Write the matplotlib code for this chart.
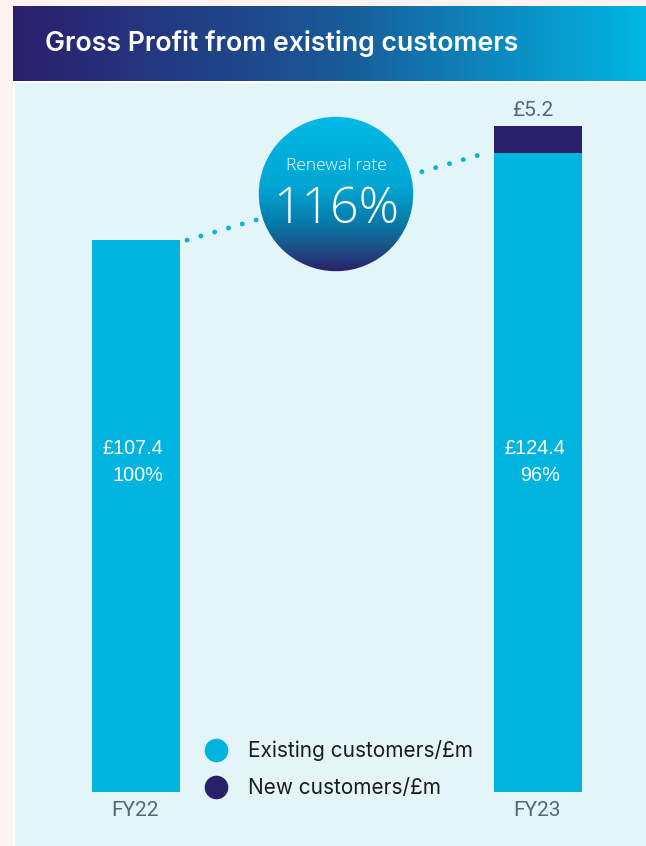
import numpy as np
import matplotlib
matplotlib.use('Agg')
import matplotlib.pyplot as plt
from matplotlib.patches import Rectangle, Circle
from matplotlib.lines import Line2D
from matplotlib.colors import LinearSegmentedColormap

# ---------------- data ----------------
categories = ['FY22', 'FY23']
existing = [107.4, 124.4]
new_cust = [0.0, 5.2]
existing_share = ['100%', '96%']
renewal_label = 'Renewal rate'
renewal_rate = '116%'
title = 'Gross Profit from existing customers'
legend_labels = ['Existing customers/£m', 'New customers/£m']

# ---------------- style ----------------
W, H, DPI = 646, 846, 100
C_EXIST = '#00b4e0'
C_NEW = '#2a1f6b'
C_PANEL = '#e4f5fa'
C_BG = '#fef3f1'
C_GREY = '#56667a'

fig = plt.figure(figsize=(W / DPI, H / DPI), dpi=DPI)
fig.patch.set_facecolor(C_BG)


def px_rect(x0, y0, x1, y1):
    return [x0 / W, 1 - y1 / H, (x1 - x0) / W, (y1 - y0) / H]


# white frame strip under the panel
fig.patches.append(Rectangle((12.7 / W, 0), 1, 1 - 81 / H, transform=fig.transFigure,
                             facecolor='white', edgecolor='none', zorder=-10))

# ---------------- header ----------------
hax = fig.add_axes(px_rect(12.7, 6, 646, 81.5))
hcmap = LinearSegmentedColormap.from_list('hdr', ['#2b1f6e', '#1a5796', '#00b6e3'])
hax.imshow(np.linspace(0, 1, 256)[None, :], cmap=hcmap, aspect='auto', extent=[0, 1, 0, 1])
hax.set_axis_off()
hax.text(32 / (646 - 12.7), 0.5, title, color='white', fontsize=19.2, fontfamily='Inter',
         fontweight='semibold', va='center', ha='left', transform=hax.transAxes)

# ---------------- main panel ----------------
PX0, PY0, PX1, PY1 = 15, 83.3, 646, 846
ax = fig.add_axes(px_rect(PX0, PY0, PX1, PY1))
ax.set_facecolor(C_PANEL)
for s in ax.spines.values():
    s.set_visible(False)
ax.set_xticks([])
ax.set_yticks([])

x = np.arange(len(categories))
# pixel geometry of the reference
cx0, cx1 = 136.0, 538.0          # bar centres
ppu_x = cx1 - cx0                # pixels per category unit
bar_w = 88.0 / ppu_x
base_px, top_px = 792.0, 126.0    # y of zero and of the FY23 total
totals = [e + n for e, n in zip(existing, new_cust)]
ppu_y = (base_px - top_px) / max(totals)
ax.set_xlim(-(cx0 - PX0) / ppu_x, 1 + (PX1 - cx1) / ppu_x)
ax.set_ylim(-(PY1 - base_px) / ppu_y, max(totals) + (top_px - PY0) / ppu_y)

ax.bar(x, existing, width=bar_w, color=C_EXIST, zorder=2)
ax.bar(x, new_cust, bottom=existing, width=bar_w, color=C_NEW, zorder=2)

# dotted connector between the two existing-customer bars
gap = 7.0 / ppu_x
ax.plot([x[0] + bar_w / 2 + gap, x[1] - bar_w / 2 - gap], [existing[0], existing[1]],
        color=C_EXIST, lw=3.5, ls=(0, (0.01, 2.95)), dash_capstyle='round',
        solid_capstyle='round', zorder=1)

# labels inside bars
label_y = (base_px - 462) / ppu_y
for i, (v, sh) in enumerate(zip(existing, existing_share)):
    ax.annotate(f'£{v:.1f}', (x[i], label_y), xytext=(-2.5, 9.4), textcoords='offset points',
                ha='center', va='center', color='white', fontsize=14.3,
                fontfamily='Liberation Sans', zorder=3)
    ax.annotate(sh, (x[i], label_y), xytext=(1.5, -9.4), textcoords='offset points',
                ha='center', va='center', color='white', fontsize=14.3,
                fontfamily='Liberation Sans', zorder=3)

# new customers value on top
ax.annotate(f'£{new_cust[1]:.1f}', (x[1], totals[1]), xytext=(-3.5, 11), textcoords='offset points',
            ha='center', va='center', color=C_GREY, fontsize=15, fontfamily='Roboto')

# category labels
for i, c in enumerate(categories):
    ax.annotate(c, (x[i], 0), xytext=(-1, -13.5), textcoords='offset points',
                ha='center', va='center', color=C_GREY, fontsize=15, fontfamily='Roboto')

# legend
handles = [Line2D([], [], marker='o', ls='', ms=17, color=C_EXIST, mec='none'),
           Line2D([], [], marker='o', ls='', ms=17, color=C_NEW, mec='none')]
leg = ax.legend(handles, legend_labels, loc='center left',
                bbox_to_anchor=((206 - PX0) / (PX1 - PX0), 1 - (769 - PY0) / (PY1 - PY0)),
                frameon=False, handlelength=1.0, handletextpad=1.0, labelspacing=0.8,
                borderpad=0, borderaxespad=0,
                prop={'family': 'Inter', 'size': 15})
for t in leg.get_texts():
    t.set_color('#1c1c1c')

# ---------------- renewal badge ----------------
bcx, bcy, br = 336.0, 194.0, 78.0
bax = fig.add_axes(px_rect(bcx - br, bcy - br, bcx + br, bcy + br))
bax.set_xlim(-1, 1)
bax.set_ylim(-1, 1)
bax.set_axis_off()
bcmap = LinearSegmentedColormap.from_list(
    'badge', [(0.0, '#2b1d68'), (0.14, '#1f4c86'), (0.30, '#0878a6'),
              (0.55, '#02a6d4'), (1.0, '#00b9e5')])
im = bax.imshow(np.linspace(0, 1, 256)[:, None], cmap=bcmap, origin='lower',
                aspect='auto', extent=[-1, 1, -1, 1])
clip = Circle((0, 0), 0.99, transform=bax.transData)
im.set_clip_path(clip)
bax.text(0, (bcy - 166) / br, renewal_label, ha='center', va='center', color='white',
         fontsize=12.5, fontfamily='Open Sans', fontweight='light')
bax.text(0, (bcy - 210) / br, renewal_rate, ha='center', va='center', color='white',
         fontsize=36, fontfamily='Open Sans', fontweight='light')

fig.savefig('out.png', dpi=DPI, facecolor=fig.get_facecolor())
